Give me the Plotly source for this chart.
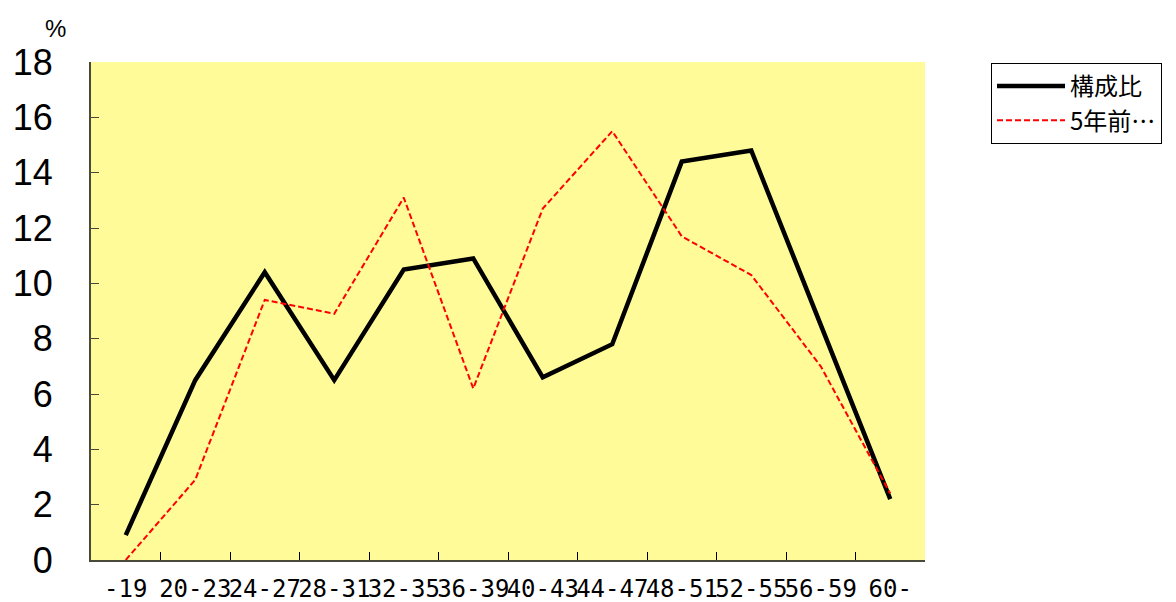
import plotly.graph_objects as go

categories = ["-19", "20-23", "24-27", "28-31", "32-35", "36-39", "40-43",
              "44-47", "48-51", "52-55", "56-59", "60-"]
share = [0.9, 6.5, 10.4, 6.5, 10.5, 10.9, 6.6, 7.8, 14.4, 14.8, 8.5, 2.2]
share_5y = [0.0, 2.9, 9.4, 8.9, 13.1, 6.2, 12.7, 15.5, 11.7, 10.3, 7.0, 2.4]
y_ticks = [0, 2, 4, 6, 8, 10, 12, 14, 16, 18]

font_family = "Liberation Sans, Noto Sans CJK JP, sans-serif"

# the page body adds an 8px offset; margins compensate
OFF = 8
L, R, T, B = 91, 925, 62, 560

fig = go.Figure()
fig.add_trace(go.Scatter(x=categories, y=share, mode="lines", name="構成比",
                         line=dict(color="black", width=4.5)))
fig.add_trace(go.Scatter(x=categories, y=share_5y, mode="lines", name="5年前…",
                         line=dict(color="red", width=2, dash="6px,3px")))

axis_col = "#4a4a3a"
fig.update_layout(
    width=1176, height=602,
    margin=dict(l=L - OFF, r=1176 - (R - OFF), t=T - OFF, b=602 - (B - OFF),
                autoexpand=False),
    paper_bgcolor="white",
    plot_bgcolor="#FFFB99",
    font=dict(family=font_family, color="black"),
    showlegend=True,
    legend=dict(x=(991 - OFF) / 1176, y=1 - (63 - OFF) / 602,
                xref="container", yref="container",
                xanchor="left", yanchor="top",
                bordercolor="black", borderwidth=1, bgcolor="white",
                font=dict(size=24, family="Noto Sans CJK JP, sans-serif"),
                tracegroupgap=0, itemwidth=68),
    xaxis=dict(type="category", categoryorder="array", categoryarray=categories,
               tickangle=0, tickson="boundaries", ticks="inside", ticklen=8,
               tickcolor="black", showline=True, linecolor=axis_col, linewidth=2,
               showgrid=False, zeroline=False, automargin=False,
               tickfont=dict(size=24, family="DejaVu Sans Mono, monospace"),
               ticklabelstandoff=6, range=[-0.5, 11.5]),
    yaxis=dict(range=[0, 18], tickvals=y_ticks, ticks="inside", ticklen=8,
               tickcolor=axis_col, showline=True, linecolor=axis_col, linewidth=2,
               showgrid=False, zeroline=False, automargin=False,
               tickfont=dict(size=36, family="Liberation Sans, sans-serif"),
               ticklabelstandoff=29),
)
fig.add_annotation(text="%", x=(55 - L) / (R - L), y=(B - 28) / (B - T),
                   xref="paper", yref="paper", showarrow=False,
                   font=dict(size=24, family="Liberation Sans, sans-serif"),
                   xanchor="center", yanchor="middle")

fig.write_html("out.html")
